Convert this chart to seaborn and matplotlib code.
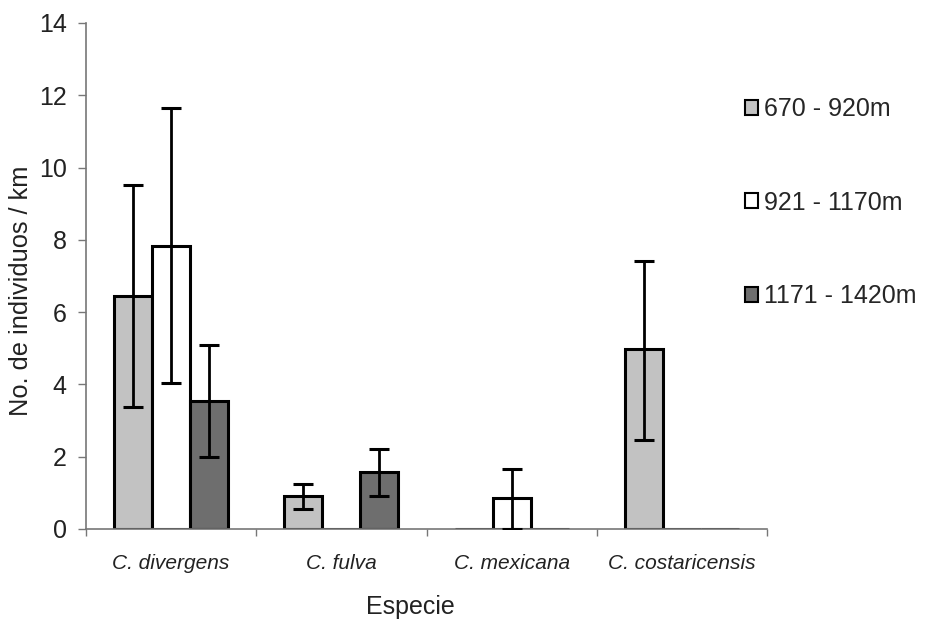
import numpy as np
import pandas as pd
import matplotlib
matplotlib.use("Agg")
import matplotlib.pyplot as plt
import seaborn as sns
from matplotlib.patches import Patch

# ---- data ----
especies = ["C. divergens", "C. fulva", "C. mexicana", "C. costaricensis"]
rangos = ["670 - 920m", "921 - 1170m", "1171 - 1420m"]

valores_670 = [6.45, 0.91, 0.0, 4.98]
valores_921 = [7.83, 0.0, 0.87, 0.0]
valores_1171 = [3.55, 1.57, 0.0, 0.0]

bajo_670 = [3.37, 0.55, np.nan, 2.46]
alto_670 = [9.52, 1.25, np.nan, 7.42]
bajo_921 = [4.03, np.nan, 0.0, np.nan]
alto_921 = [11.64, np.nan, 1.66, np.nan]
bajo_1171 = [1.98, 0.91, np.nan, np.nan]
alto_1171 = [5.09, 2.21, np.nan, np.nan]

colores = ["#c2c2c2", "#ffffff", "#6e6e6e"]

valores = [valores_670, valores_921, valores_1171]
bajos = [bajo_670, bajo_921, bajo_1171]
altos = [alto_670, alto_921, alto_1171]

rows = []
for r, vals in zip(rangos, valores):
    for e, v in zip(especies, vals):
        rows.append({"Especie": e, "Rango": r, "Valor": v})
df = pd.DataFrame(rows)

sns.set_theme(style="white")
plt.rcParams["font.family"] = ["Liberation Sans", "DejaVu Sans"]

fig = plt.figure(figsize=(9.28, 6.23), dpi=100)
ax = fig.add_axes([0.0927, 0.1509, 0.7338, 0.8122])

sns.barplot(data=df, x="Especie", y="Valor", hue="Rango", order=especies,
            hue_order=rangos, palette=colores, edgecolor="black",
            linewidth=2.2, errorbar=None, width=0.67, ax=ax, legend=False)

# error bars positioned on the drawn bars
bars = [p for p in ax.patches if p.get_width() > 0]
for i, r in enumerate(rangos):
    for j, e in enumerate(especies):
        p = bars[i * len(especies) + j]
        xc = p.get_x() + p.get_width() / 2
        h = p.get_height()
        lo, hi = bajos[i][j], altos[i][j]
        if np.isnan(lo):
            continue
        ax.errorbar([xc], [h], yerr=[[h - lo], [hi - h]], fmt="none",
                    ecolor="black", elinewidth=2, capsize=7, capthick=2.2,
                    zorder=5)

ax.set_ylim(0, 14)
ax.set_xlim(-0.5, 3.5)
ax.set_yticks(np.arange(0, 15, 2))
ax.set_yticklabels([str(v) for v in range(0, 15, 2)], fontsize=18)
ax.set_xticks(range(len(especies)))
ax.set_xticklabels(especies, fontsize=15, style="italic")
ax.set_xticks(np.arange(-0.5, 4, 1), minor=True)
ax.tick_params(axis="x", which="major", length=0, pad=18, labelcolor="#222222")
ax.tick_params(axis="x", which="minor", length=5, width=1, color="#777777",
               direction="out", bottom=True)
ax.tick_params(axis="y", which="major", length=6, width=1, color="#777777",
               direction="out", left=True, pad=8, labelcolor="#222222")

for s in ["top", "right"]:
    ax.spines[s].set_visible(False)
for s in ["left", "bottom"]:
    ax.spines[s].set_color("#777777")
    ax.spines[s].set_linewidth(1.2)

ax.set_xlabel("Especie", fontsize=18, color="#222222")
ax.set_ylabel("No. de individuos / km", fontsize=18.3, color="#222222")
ax.xaxis.set_label_coords(0.476, -0.13)
ax.yaxis.set_label_coords(-0.078, 0.47)
ax.grid(False)

handles = [Patch(facecolor=c, edgecolor="black", linewidth=1.5) for c in colores]
fig.legend(handles, rangos, loc="upper left", bbox_to_anchor=(0.803, 0.844),
           frameon=False, fontsize=18, handlelength=0.52, handleheight=0.55,
           handletextpad=0.25, labelspacing=2.78, borderpad=0,
           borderaxespad=0)

fig.savefig("out.png", dpi=100, facecolor="white")
